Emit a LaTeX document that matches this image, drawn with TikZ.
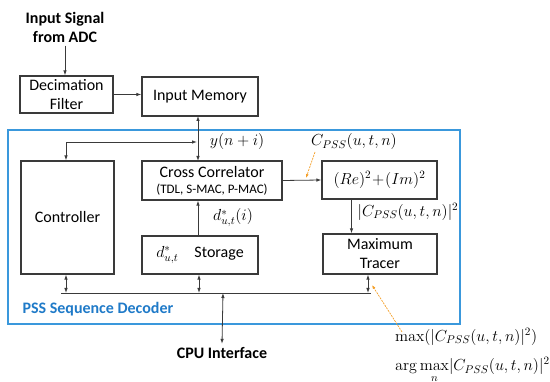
\RequirePackage{fix-cm}
\documentclass[tikz,border=0pt]{standalone}
\usepackage{amsmath}
\usepackage[no-math]{fontspec}
\setmainfont{Carlito}
\usetikzlibrary{arrows.meta}

\definecolor{boxgray}{HTML}{3A3A3A}
\definecolor{frameblue}{HTML}{3A98DC}
\definecolor{textblue}{HTML}{1F7AC8}
\definecolor{tipOrange}{HTML}{F4A02A}

\tikzset{
  blk/.style={draw=boxgray, line width=1.2pt, inner sep=0pt, align=center},
  wire/.style={draw=boxgray, line width=0.8pt},
  tip/.style={-{Latex[length=5pt,width=3.5pt]}},
  biTip/.style={{Latex[length=5pt,width=3.5pt]}-{Latex[length=5pt,width=3.5pt]}},
  hint/.style={draw=tipOrange, line width=0.7pt, dash pattern=on 2pt off 1pt, -{Latex[length=4pt,width=3pt]}},
  mlab/.style={font=\fontsize{16}{19}\selectfont, inner sep=1pt}
}

\begin{document}
\begin{tikzpicture}[x=1pt, y=-1pt, font=\fontsize{16}{19}\selectfont]
    \useasboundingbox (0,0) rectangle (550,382);

    % Frame of the decoder
    \draw[frameblue, line width=1.3pt] (8,130) rectangle (460,324);
    \node[anchor=west, text=textblue, font=\fontsize{16}{19}\selectfont\bfseries] (dec) at (19,309) {PSS Sequence Decoder};

    % Blocks
    \node[font=\fontsize{16}{19}\selectfont\bfseries, align=center] (insig) at (65,27) {Input Signal\\from ADC};
    \node[blk, minimum width=93pt, minimum height=37pt] (df) at (66.5,94.5) {Decimation\\Filter};
    \node[blk, minimum width=116pt, minimum height=39pt] (im) at (200,96.5) {Input Memory};
    \node[blk, minimum width=93pt, minimum height=113pt] (ctrl) at (67.5,217.5) {Controller};
    \node[blk, minimum width=140pt, minimum height=39pt] (cc) at (212,180.5)
        {Cross Correlator\\[-3pt]{\fontsize{13}{15}\selectfont (TDL, S-MAC, P-MAC)}};
    \node[blk, minimum width=115pt, minimum height=38pt] (re) at (379.5,180) {$(Re)^2\!+\!(Im)^2$};
    \node[blk, minimum width=116pt, minimum height=38pt] (st) at (200,255) {$d^*_{u,t}$\quad Storage};
    \node[blk, minimum width=114pt, minimum height=40pt] (mt) at (380,254) {Maximum\\Tracer};
    \node[font=\fontsize{16}{19}\selectfont\bfseries] (cpu) at (222,353) {CPU Interface};

    % Bus
    \coordinate (busL) at (61,293);
    \coordinate (busR) at (371,293);
    \coordinate (cpuTop) at (223,293);
    \coordinate (ctrlTurn) at (66,142);
    \draw[wire] (busL) -- (busR);

    % Connectors
    \draw[wire, tip] (insig.south) -- (insig.south |- df.north);
    \draw[wire, tip] (df.east) -- (df.east -| im.west);
    \draw[wire, biTip] (198,116) -- (198,161);
    \draw[wire, biTip] (ctrl.north -| ctrlTurn) |- (197,142);
    \draw[wire, tip] (cc.east) -- (re.west);
    \draw[wire, tip] (st.north -| 198,0) -- (cc.south -| 198,0);
    \draw[wire, tip] ([xshift=-28pt]re.south) -- ([xshift=-28pt]re.south |- mt.north);
    \draw[wire, biTip] (ctrl.south -| 66,0) -- (busL -| 66,0);
    \draw[wire, biTip] (st.south -| 199,0) -- (busL -| 199,0);
    \draw[wire, biTip] ([xshift=-12pt]mt.south) -- ([xshift=-12pt]mt.south |- busR);
    \draw[wire, biTip] (cpuTop) -- (cpu.north);

    % Signal labels
    \node[mlab] (ylab) at (237,142) {$y(n+i)$};
    \node[mlab] (cpss) at (354,142) {$C_{PSS}(u,t,n)$};
    \node[mlab] (dlab) at (233,218) {$d^*_{u,t}(i)$};
    \node[mlab] (abslab) at (408,212) {$|C_{PSS}(u,t,n)|^2$};
    \node[mlab, anchor=west] (maxlab) at (394,337) {$\max(|C_{PSS}(u,t,n)|^2)$};
    \node[mlab, anchor=west] (arglab) at (394,370) {$\displaystyle\arg\max\limits_n\!|C_{PSS}(u,t,n)|^2$};

    % Pointers
    \draw[hint] (315,152) -- (306,178);
    \draw[hint] (402,332) -- (372,285);
\end{tikzpicture}
\end{document}
